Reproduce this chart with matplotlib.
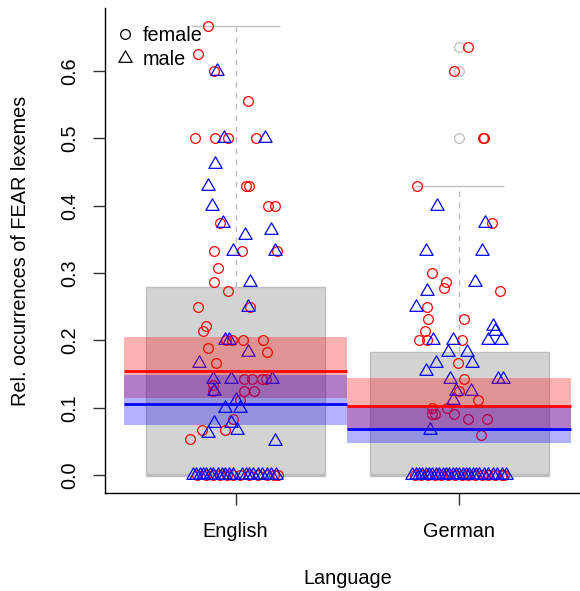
import matplotlib
matplotlib.use('Agg')
import numpy as np
import matplotlib.pyplot as plt
from matplotlib.path import Path
from matplotlib.lines import Line2D

plt.rcParams['font.family'] = ['Liberation Sans', 'DejaVu Sans']

# ---------------- data ----------------
languages = ['English', 'German']
positions = [1, 2]

# boxplot summary (all speakers)
box_lower = [0.0, 0.0]
box_upper = [0.279, 0.182]
medians = [0.0, 0.0]
whisker_top = [0.667, 0.429]
outlier_x = [2, 2, 2]
outlier_y = [0.636, 0.6, 0.5]

# means with confidence bands
female_mean = [0.155, 0.103]
female_lo = [0.115, 0.068]
female_hi = [0.205, 0.144]
male_mean = [0.106, 0.069]
male_lo = [0.075, 0.047]
male_hi = [0.149, 0.102]

# jittered individual observations
female_en_x = [0.876, 0.834, 0.903, 1.058, 0.819, 0.909, 0.966, 1.090, 1.048, 1.060,
               1.145, 1.178, 0.931, 0.903, 1.030, 1.187, 0.922, 0.906, 0.966, 0.831,
               1.066, 0.869, 0.857, 0.958, 0.985, 1.033, 1.122, 0.877, 1.142, 0.913,
               1.036, 1.075, 1.118, 1.138, 0.898, 0.901, 1.040, 1.082, 1.018, 0.988,
               0.851, 0.955, 0.797,
               0.83, 0.87, 0.90, 0.93, 0.96, 0.99, 1.02, 1.06, 1.10, 1.14, 1.17, 1.19]
female_en_y = [0.667, 0.625, 0.6, 0.556, 0.5, 0.5, 0.5, 0.5, 0.429, 0.429,
               0.4, 0.4, 0.375, 0.333, 0.333, 0.333, 0.308, 0.286, 0.273, 0.25,
               0.25, 0.222, 0.214, 0.2, 0.2, 0.2, 0.2, 0.188, 0.182, 0.167,
               0.143, 0.143, 0.143, 0.143, 0.133, 0.125, 0.125, 0.125, 0.111, 0.083,
               0.067, 0.067, 0.053,
               0, 0, 0, 0, 0, 0, 0, 0, 0, 0, 0, 0]

male_en_x = [0.918, 0.948, 1.133, 0.910, 0.879, 0.894, 0.943, 1.157, 1.043, 0.991,
             1.175, 1.067, 1.055, 0.951, 0.973, 1.057, 0.839, 0.898, 0.978, 1.164,
             0.906, 1.0, 0.951, 1.021, 0.903, 0.978, 1.006, 0.879, 1.175,
             0.81, 0.825, 0.84, 0.855, 0.87, 0.885, 0.90, 0.92, 0.94, 0.955, 0.97,
             0.99, 1.03, 1.045, 1.06, 1.08, 1.10, 1.12, 1.14, 1.16, 1.18]
male_en_y = [0.6, 0.5, 0.5, 0.462, 0.429, 0.4, 0.375, 0.364, 0.357, 0.333,
             0.333, 0.286, 0.25, 0.2, 0.2, 0.182, 0.167, 0.143, 0.143, 0.143,
             0.125, 0.111, 0.1, 0.1, 0.077, 0.077, 0.067, 0.0625, 0.05,
             0, 0, 0, 0, 0, 0, 0, 0, 0, 0, 0,
             0, 0, 0, 0, 0, 0, 0, 0, 0, 0]

female_de_x = [2.039, 1.978, 2.104, 2.110, 1.810, 2.145, 1.879, 1.939, 1.930, 2.182,
               1.856, 1.861, 2.022, 1.847, 1.820, 1.857, 2.012, 1.993, 2.021, 2.0,
               2.082, 1.879, 1.946, 1.877, 1.891, 1.976, 2.040, 2.122, 2.097,
               1.80, 1.83, 1.86, 1.89, 1.92, 1.95, 1.98, 2.01, 2.04, 2.07, 2.10,
               2.13, 2.16, 2.19, 2.20]
female_de_y = [0.636, 0.6, 0.5, 0.5, 0.429, 0.375, 0.3, 0.286, 0.278, 0.273,
               0.25, 0.231, 0.231, 0.214, 0.2, 0.2, 0.2, 0.167, 0.143, 0.125,
               0.111, 0.1, 0.1, 0.091, 0.091, 0.091, 0.083, 0.083, 0.059,
               0, 0, 0, 0, 0, 0, 0, 0, 0, 0, 0,
               0, 0, 0, 0]

male_de_x = [1.899, 2.115, 1.851, 2.101, 2.071, 1.856, 1.805, 2.152, 2.160, 1.881,
             1.973, 2.127, 2.186, 1.951, 2.036, 1.896, 2.057, 1.851, 1.958, 2.174,
             2.194, 1.984, 2.054, 1.973, 1.869,
             1.79, 1.805, 1.82, 1.835, 1.85, 1.865, 1.88, 1.895, 1.91, 1.925, 1.94,
             1.955, 1.97, 1.985, 2.0, 2.015, 2.03, 2.045, 2.06, 2.075, 2.09, 2.11,
             2.13, 2.15, 2.17, 2.19, 2.21]
male_de_y = [0.4, 0.375, 0.333, 0.333, 0.286, 0.273, 0.25, 0.222, 0.214, 0.2,
             0.2, 0.2, 0.2, 0.182, 0.182, 0.167, 0.167, 0.154, 0.143, 0.143,
             0.143, 0.125, 0.125, 0.111, 0.0667,
             0, 0, 0, 0, 0, 0, 0, 0, 0, 0, 0,
             0, 0, 0, 0, 0, 0, 0, 0, 0, 0, 0,
             0, 0, 0, 0, 0]

yticks = [0.0, 0.1, 0.2, 0.3, 0.4, 0.5, 0.6]
ytick_labels = ['0.0', '0.1', '0.2', '0.3', '0.4', '0.5', '0.6']

# ---------------- plot ----------------
FS = 14.3
fig = plt.figure(figsize=(5.8, 5.91), dpi=100)
ax = fig.add_axes([105 / 580, 1 - 493 / 591, 475 / 580, 485 / 591])

pos = np.array(positions, dtype=float)
bl = np.array(box_lower)
bu = np.array(box_upper)

CS = 7.0   # circle marker size
TS = 11.0  # triangle marker size

# box
ax.bar(pos, bu - bl, bottom=bl, width=0.8, color='#D3D3D3', edgecolor='#BEBEBE',
       linewidth=1.0, zorder=1)
ax.hlines(medians, pos - 0.4, pos + 0.4, colors='#BEBEBE', linewidth=2.5, zorder=1.1)
ax.vlines(pos, bu, whisker_top, colors='#BEBEBE', linestyles=(0, (4, 4)),
          linewidth=1.0, zorder=1.1)
ax.hlines(whisker_top, pos - 0.2, pos + 0.2, colors='#BEBEBE', linewidth=1.0, zorder=1.1)
ax.plot(outlier_x, outlier_y, linestyle='none', marker='o', markersize=CS,
        markerfacecolor='none', markeredgecolor='#BEBEBE', markeredgewidth=0.9, zorder=1.2)

tri = Path([(0, 1), (-0.866, -0.5), (0.866, -0.5), (0, 1)],
           [Path.MOVETO, Path.LINETO, Path.LINETO, Path.CLOSEPOLY])

circ_kw = dict(linestyle='none', marker='o', markersize=CS, markerfacecolor='none',
               markeredgecolor='red', markeredgewidth=0.9, zorder=2)
tri_kw = dict(linestyle='none', marker=tri, markersize=TS, markerfacecolor='none',
              markeredgecolor='blue', markeredgewidth=0.9, zorder=2.1)

ax.plot(female_en_x, female_en_y, **circ_kw)
ax.plot(female_de_x, female_de_y, **circ_kw)
ax.plot(male_en_x, male_en_y, **tri_kw)
ax.plot(male_de_x, male_de_y, **tri_kw)

# confidence bands
fl, fh = np.array(female_lo), np.array(female_hi)
ml, mh = np.array(male_lo), np.array(male_hi)
ax.bar(pos, fh - fl, bottom=fl, width=1.0, color='red', alpha=0.3, linewidth=0, zorder=3)
ax.bar(pos, mh - ml, bottom=ml, width=1.0, color='blue', alpha=0.3, linewidth=0, zorder=3.1)
ax.hlines(female_mean, pos - 0.5, pos + 0.5, colors='red', linewidth=2.0, zorder=4)
ax.hlines(male_mean, pos - 0.5, pos + 0.5, colors='blue', linewidth=2.0, zorder=4.1)

# axes styling
ax.set_xlim(0.417, 2.539)
ax.set_ylim(-0.0267, 0.6936)
for s in ['top', 'right']:
    ax.spines[s].set_visible(False)
for s in ['left', 'bottom']:
    ax.spines[s].set_linewidth(1.0)
    ax.spines[s].set_color('black')

ax.set_xticks(positions)
ax.set_xticklabels(languages, fontsize=FS)
ax.set_yticks(yticks)
ax.set_yticklabels(ytick_labels, fontsize=FS, rotation=90, va='center')
ax.tick_params(axis='both', direction='out', length=8.6, width=1.0, color='#333333')
ax.tick_params(axis='y', pad=10)
ax.tick_params(axis='x', pad=12.5)

ax.set_ylabel('Rel. occurrences of FEAR lexemes', fontsize=FS)
ax.yaxis.label.set_va('center')
ax.yaxis.set_label_coords(-0.177, 0.5)
ax.set_xlabel('Language', fontsize=FS)
ax.xaxis.label.set_va('center')
ax.xaxis.set_label_coords(0.5105, -0.177)

handles = [
    Line2D([], [], linestyle='none', marker='o', markersize=CS, markerfacecolor='none',
           markeredgecolor='black', markeredgewidth=0.9),
    Line2D([], [], linestyle='none', marker=tri, markersize=TS, markerfacecolor='none',
           markeredgecolor='black', markeredgewidth=0.9),
]
ax.legend(handles, ['female', 'male'], loc='upper left', frameon=False, fontsize=FS,
          handlelength=1.0, handletextpad=0.4, labelspacing=0.25, borderaxespad=0.5,
          borderpad=0.0, bbox_to_anchor=(0.0, 1 - 8 / 485))

fig.savefig('out.png', dpi=100)
